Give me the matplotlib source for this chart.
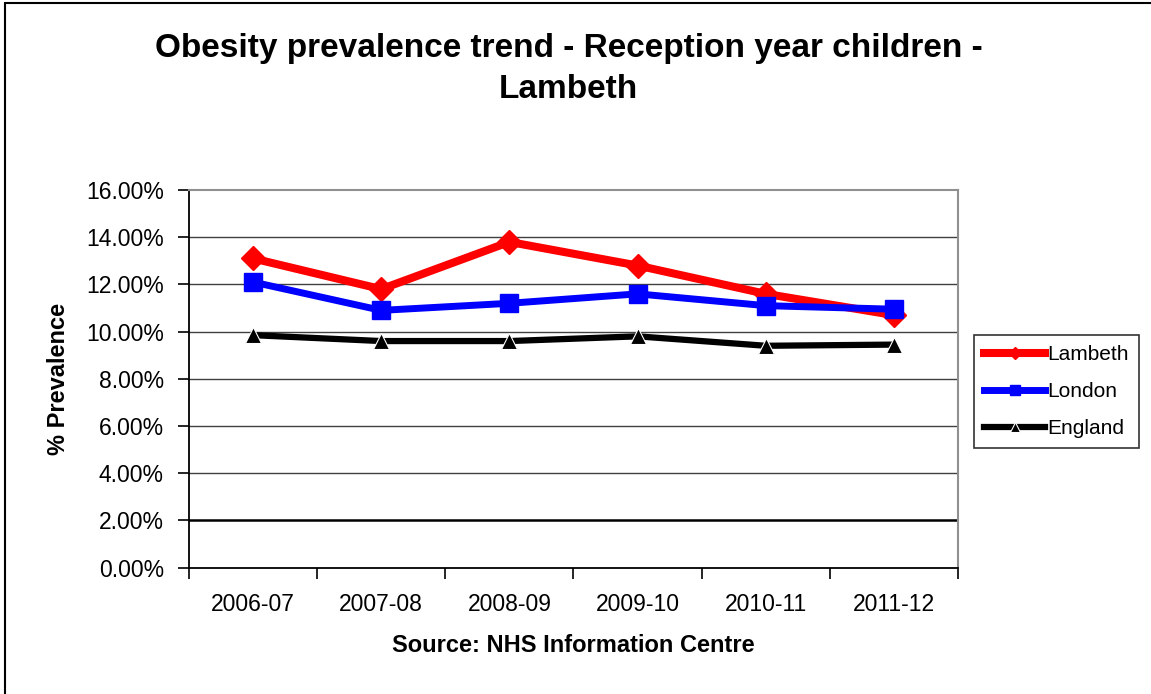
import matplotlib
matplotlib.use('Agg')
import matplotlib.pyplot as plt
from matplotlib.patches import Rectangle
from matplotlib.ticker import FuncFormatter, FixedLocator

plt.rcParams['font.family'] = ['Liberation Sans', 'DejaVu Sans']

years = ['2006-07', '2007-08', '2008-09', '2009-10', '2010-11', '2011-12']
lambeth = [13.1, 11.8, 13.8, 12.8, 11.6, 10.7]
london = [12.1, 10.9, 11.2, 11.6, 11.1, 10.95]
england = [9.85, 9.6, 9.6, 9.8, 9.4, 9.45]

fig = plt.figure(figsize=(11.51, 6.94), dpi=100)
ax = fig.add_axes([0.1642, 0.1821, 0.6681, 0.5441])

# outer frame of the chart (top and left edge visible)
fig.patches.append(Rectangle((0.0045, -0.05), 1.2, 1.0457, transform=fig.transFigure,
                             fill=False, edgecolor='black', linewidth=1.5))

x = list(range(len(years)))
ax.plot(x, lambeth, color='#ff0000', lw=5.8, marker='D', ms=12, label='Lambeth', zorder=5)
ax.plot(x, london, color='#0000ff', lw=5, marker='s', ms=13, label='London', zorder=6)
ax.plot(x, england, color='black', lw=4.5, marker='^', ms=12, label='England', zorder=4,
        markeredgecolor='white', markeredgewidth=0.8)

ax.set_ylim(0, 16)
ax.set_xlim(-0.5, 5.5)
ax.set_yticks(range(0, 17, 2))
ax.yaxis.set_major_formatter(FuncFormatter(lambda v, p: '%.2f%%' % v))
for v in range(2, 16, 2):
    if v == 2:
        ax.axhline(v, color='black', lw=1.8, zorder=1)
    else:
        ax.axhline(v, color='#404040', lw=1.0, zorder=1)

ax.set_xticks(x)
ax.set_xticklabels(years)
ax.xaxis.set_minor_locator(FixedLocator([i - 0.5 for i in range(len(years) + 1)]))
ax.tick_params(axis='x', which='major', length=0, pad=18, labelsize=16.5)
ax.tick_params(axis='x', which='minor', length=8, width=1.2, direction='out')
ax.tick_params(axis='y', length=8, width=1.2, direction='out', labelsize=16.5, pad=10)

for s in ['top', 'right']:
    ax.spines[s].set_color('#909090')
    ax.spines[s].set_linewidth(1.5)
for s in ['left', 'bottom']:
    ax.spines[s].set_color('black')
    ax.spines[s].set_linewidth(1.3)

ax.set_ylabel('% Prevalence', fontsize=17, fontweight='bold')
ax.yaxis.set_label_coords(-0.155, 0.5)
ax.set_xlabel('Source: NHS Information Centre', fontsize=17, fontweight='bold')
ax.xaxis.set_label_coords(0.5, -0.176)

fig.text(0.494, 1 - 48 / 694, 'Obesity prevalence trend - Reception year children -',
         ha='center', va='center', fontsize=24, fontweight='bold')
fig.text(0.494, 1 - 90 / 694, 'Lambeth',
         ha='center', va='center', fontsize=24, fontweight='bold')

leg = ax.legend(loc='upper left', bbox_to_anchor=(1.0208, 0.616), fontsize=15, frameon=True,
                fancybox=False, edgecolor='black', handlelength=2.9, handletextpad=0.1,
                labelspacing=0.85, borderpad=0.5, markerscale=0.55, borderaxespad=0)
leg.get_frame().set_linewidth(1.2)

fig.savefig('out.png', dpi=100)
